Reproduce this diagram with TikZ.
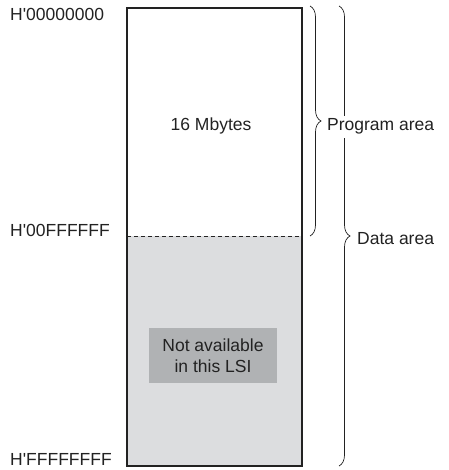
\documentclass[tikz,border=0pt]{standalone}
\usepackage{fontspec}
\setmainfont{Liberation Sans}[Ligatures=TeXOff]
\usetikzlibrary{decorations.pathreplacing}
\definecolor{ink}{HTML}{222222}
\definecolor{lightfill}{HTML}{DCDDDF}
\definecolor{boxfill}{HTML}{B0B2B4}
\tikzset{
  lbl/.style={inner sep=0pt, font=\fontsize{17.5}{21}\selectfont, text=ink},
  bracedeco/.style={decorate, decoration={brace, amplitude=11pt}, draw=ink, line width=0.7pt},
}
\begin{document}
\begin{tikzpicture}[x=1pt,y=-1pt]
\useasboundingbox (0,0) rectangle (448,470);
% regions
\fill[lightfill] (127,236) rectangle (302,466);
\node[fill=boxfill, minimum width=128pt, minimum height=55pt, inner sep=0pt] (na) at (213,355.5) {};
\node[lbl, anchor=base] (t1) at (213,351) {Not available};
\node[lbl, anchor=base] (t2) at (213,372.5) {in this LSI};
\coordinate (dl) at (127,236);
\coordinate (dr) at (302,236);
\draw[ink, line width=0.7pt, dash pattern=on 4pt off 3pt] (dl) -- (dr);
\draw[ink, line width=2pt] (127,8) rectangle (302,466);
% text
\node[lbl, anchor=base] (mb) at (211,131) {16 Mbytes};
\node[lbl, anchor=base west] (a0) at (10,21) {H'00000000};
\node[lbl, anchor=base west] (a1) at (10,236) {H'00FFFFFF};
\node[lbl, anchor=base west] (a2) at (10,465) {H'FFFFFFFF};
% braces
\coordinate (b1t) at (310,6);
\coordinate (b1b) at (310,236);
\coordinate (b2t) at (339,6);
\coordinate (b2b) at (339,466);
\draw[bracedeco] (b1t) -- (b1b);
\draw[bracedeco] (b2t) -- (b2b);
\node[lbl, anchor=base west, fill=white, inner xsep=1pt, inner ysep=3pt] (pa) at (326,131) {Program area};
\node[lbl, anchor=base west] (da) at (357,244) {Data area};
\end{tikzpicture}
\end{document}
